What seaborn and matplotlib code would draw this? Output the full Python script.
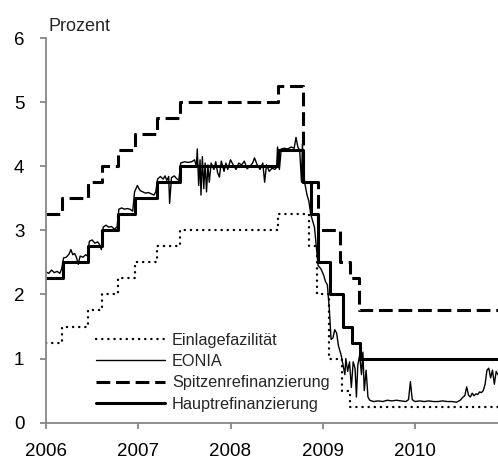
import matplotlib
matplotlib.use("Agg")
import matplotlib.pyplot as plt
import seaborn as sns
import pandas as pd

# ---- data (decimal years) ----
mro_t = [2006.00, 2006.18, 2006.455, 2006.61, 2006.78, 2006.96, 2007.20, 2007.45,
         2008.52, 2008.79, 2008.87, 2008.95, 2009.08, 2009.22, 2009.32, 2009.40, 2011.00]
mro_v = [2.25, 2.50, 2.75, 3.00, 3.25, 3.50, 3.75, 4.00,
         4.25, 3.75, 3.25, 2.50, 2.00, 1.50, 1.25, 1.00, 1.00]

dep_t = [2006.00, 2006.17, 2006.46, 2006.61, 2006.78, 2006.96, 2007.20, 2007.45,
         2008.52, 2008.85, 2008.94, 2009.07, 2009.21, 2009.30, 2011.00]
dep_v = [1.25, 1.50, 1.75, 2.00, 2.25, 2.50, 2.75, 3.00,
         3.25, 2.75, 2.00, 1.00, 0.50, 0.25, 0.25]

mlf_t = [2006.00, 2006.17, 2006.46, 2006.61, 2006.78, 2006.96, 2007.20, 2007.45,
         2008.52, 2008.79, 2008.95, 2009.19, 2009.29, 2009.39, 2011.00]
mlf_v = [3.25, 3.50, 3.75, 4.00, 4.25, 4.50, 4.75, 5.00,
         5.25, 3.75, 3.00, 2.50, 2.25, 1.75, 1.75]

eonia_t = [2006.00, 2006.03, 2006.06, 2006.09, 2006.12, 2006.15, 2006.17, 2006.19, 2006.22, 2006.25,
           2006.27, 2006.29, 2006.31, 2006.33, 2006.35, 2006.37, 2006.40, 2006.43, 2006.45, 2006.47,
           2006.50, 2006.53, 2006.56, 2006.58, 2006.60, 2006.62, 2006.65, 2006.68, 2006.71, 2006.74,
           2006.77, 2006.79, 2006.82, 2006.85, 2006.88, 2006.91, 2006.94, 2006.96, 2006.99, 2007.02,
           2007.05, 2007.08, 2007.11, 2007.14, 2007.17, 2007.19, 2007.21, 2007.24, 2007.27, 2007.29,
           2007.31, 2007.33, 2007.34, 2007.36, 2007.39, 2007.42, 2007.44, 2007.46, 2007.50, 2007.54,
           2007.58, 2007.61, 2007.63, 2007.64, 2007.655, 2007.67, 2007.68, 2007.695, 2007.71, 2007.725,
           2007.74, 2007.755, 2007.77, 2007.79, 2007.82, 2007.84, 2007.86, 2007.88, 2007.90, 2007.93,
           2007.95, 2007.97, 2008.00, 2008.03, 2008.06, 2008.09, 2008.12, 2008.15, 2008.18, 2008.21,
           2008.24, 2008.26, 2008.29, 2008.32, 2008.35, 2008.37, 2008.39, 2008.42, 2008.45, 2008.48,
           2008.50, 2008.51, 2008.53, 2008.55, 2008.58, 2008.62, 2008.66, 2008.69, 2008.71, 2008.73,
           2008.75, 2008.77, 2008.78, 2008.79, 2008.81, 2008.83, 2008.85, 2008.87, 2008.89, 2008.91,
           2008.93, 2008.95, 2008.98, 2009.01, 2009.03, 2009.05, 2009.07, 2009.09, 2009.11, 2009.13,
           2009.15, 2009.17, 2009.20, 2009.22, 2009.24, 2009.25, 2009.27, 2009.29, 2009.31, 2009.33,
           2009.35, 2009.365, 2009.38, 2009.40, 2009.42, 2009.435, 2009.45, 2009.47, 2009.49, 2009.51,
           2009.55, 2009.60, 2009.65, 2009.70, 2009.75, 2009.80, 2009.85, 2009.90, 2009.93, 2009.95,
           2009.97, 2010.00, 2010.05, 2010.10, 2010.15, 2010.20, 2010.25, 2010.30, 2010.35, 2010.40,
           2010.45, 2010.49, 2010.52, 2010.54, 2010.56, 2010.58, 2010.60, 2010.62, 2010.64, 2010.66,
           2010.68, 2010.70, 2010.72, 2010.74, 2010.76, 2010.78, 2010.80, 2010.82, 2010.84, 2010.86,
           2010.88, 2010.90, 2010.92]
eonia_v = [2.35, 2.33, 2.38, 2.34, 2.36, 2.33, 2.40, 2.57, 2.58, 2.63,
           2.70, 2.62, 2.64, 2.58, 2.47, 2.60, 2.58, 2.62, 2.60, 2.83,
           2.85, 2.80, 2.82, 2.78, 2.70, 3.05, 3.08, 3.05, 3.06, 3.02,
           3.05, 3.33, 3.35, 3.33, 3.34, 3.33, 3.30, 3.60, 3.70, 3.62,
           3.60, 3.58, 3.59, 3.57, 3.55, 3.60, 3.80, 3.84, 3.80, 3.85,
           3.78, 3.84, 3.42, 3.82, 3.85, 3.80, 3.78, 4.05, 4.07, 4.06,
           4.07, 4.10, 4.00, 4.27, 3.70, 4.10, 3.55, 4.15, 3.65, 4.05,
           3.60, 4.02, 3.75, 4.05, 3.95, 4.07, 3.90, 3.83, 4.08, 3.92,
           4.05, 3.95, 4.10, 4.02, 3.95, 4.05, 4.02, 4.08, 3.96, 4.00,
           4.05, 4.13, 4.02, 3.95, 4.05, 3.75, 4.02, 3.92, 3.97, 3.95,
           3.98, 4.30, 3.95, 4.27, 4.28, 4.27, 4.30, 4.28, 4.45, 4.30,
           4.25, 3.75, 4.35, 3.90, 3.70, 3.55, 3.45, 3.25, 3.15, 3.05,
           2.75, 2.45, 2.40, 2.30, 2.20, 2.15, 1.80, 1.30, 1.32, 1.45,
           1.40, 1.20, 1.05, 0.90, 0.75, 1.00, 0.80, 0.95, 0.55, 0.95,
           0.85, 0.40, 0.90, 1.05, 0.75, 1.10, 0.50, 0.82, 0.40, 0.35,
           0.33, 0.34, 0.33, 0.35, 0.34, 0.35, 0.34, 0.33, 0.36, 0.64,
           0.36, 0.33, 0.34, 0.33, 0.34, 0.33, 0.33, 0.34, 0.33, 0.33,
           0.32, 0.35, 0.40, 0.42, 0.56, 0.43, 0.40, 0.46, 0.42, 0.45,
           0.44, 0.48, 0.47, 0.50, 0.60, 0.82, 0.85, 0.70, 0.82, 0.60,
           0.80, 0.75, 0.70]

year_ticks = [2006, 2007, 2008, 2009, 2010]
y_ticks = [0, 1, 2, 3, 4, 5, 6]

labels = ["Einlagefazilität", "EONIA", "Spitzenrefinanzierung", "Hauptrefinanzierung"]

# ---- plot ----
sns.set_style("white")
plt.rcParams['font.family'] = ['Liberation Sans', 'DejaVu Sans']

fig = plt.figure(figsize=(4.98, 4.62), dpi=100)
ax = fig.add_axes([46 / 498, 1 - 422.7 / 462, 1 - 46 / 498, (422.7 - 38) / 462])

df_dep = pd.DataFrame({"t": dep_t, "v": dep_v})
df_eon = pd.DataFrame({"t": eonia_t, "v": eonia_v})
df_mlf = pd.DataFrame({"t": mlf_t, "v": mlf_v})
df_mro = pd.DataFrame({"t": mro_t, "v": mro_v})

sns.lineplot(data=df_dep, x="t", y="v", ax=ax, color="black", lw=1.7,
             linestyle=(0, (0.1, 2.5)), drawstyle="steps-post", label=labels[0],
             dash_capstyle="round", estimator=None)
sns.lineplot(data=df_eon, x="t", y="v", ax=ax, color="black", lw=1.0,
             label=labels[1], estimator=None)
sns.lineplot(data=df_mlf, x="t", y="v", ax=ax, color="black", lw=2.2,
             linestyle=(0, (4.5, 1.9)), drawstyle="steps-post", label=labels[2],
             estimator=None)
sns.lineplot(data=df_mro, x="t", y="v", ax=ax, color="black", lw=2.2,
             drawstyle="steps-post", label=labels[3], estimator=None)

ax.set_xlim(2006.0, 2006 + (498 - 46) / 92.25)
ax.set_ylim(0, 6)
ax.set_xticks(year_ticks)
ax.set_xticklabels([str(y) for y in year_ticks])
ax.set_yticks(y_ticks)
ax.set_yticklabels([str(y) for y in y_ticks])
ax.set_xlabel("")
ax.set_ylabel("")

grey = "#868686"
for s in ["top", "right"]:
    ax.spines[s].set_visible(False)
for s in ["left", "bottom"]:
    ax.spines[s].set_color(grey)
    ax.spines[s].set_linewidth(1.3)
ax.tick_params(axis="both", colors=grey, labelcolor="black", labelsize=13.5,
               direction="out", length=4.5, width=1.3)
ax.tick_params(axis="y", pad=11, left=True)
ax.tick_params(axis="x", pad=10, bottom=True)

fig.text(48 / 498, 1 - 31 / 462, "Prozent", fontsize=13, ha="left", va="baseline")

leg = ax.legend(loc="lower left", bbox_to_anchor=(96 / 498, 50 / 462),
                bbox_transform=fig.transFigure, frameon=False, fontsize=11.7,
                handlelength=4.25, handletextpad=0.43, labelspacing=0.4,
                borderpad=0, borderaxespad=0)

fig.savefig("out.png", dpi=100)
